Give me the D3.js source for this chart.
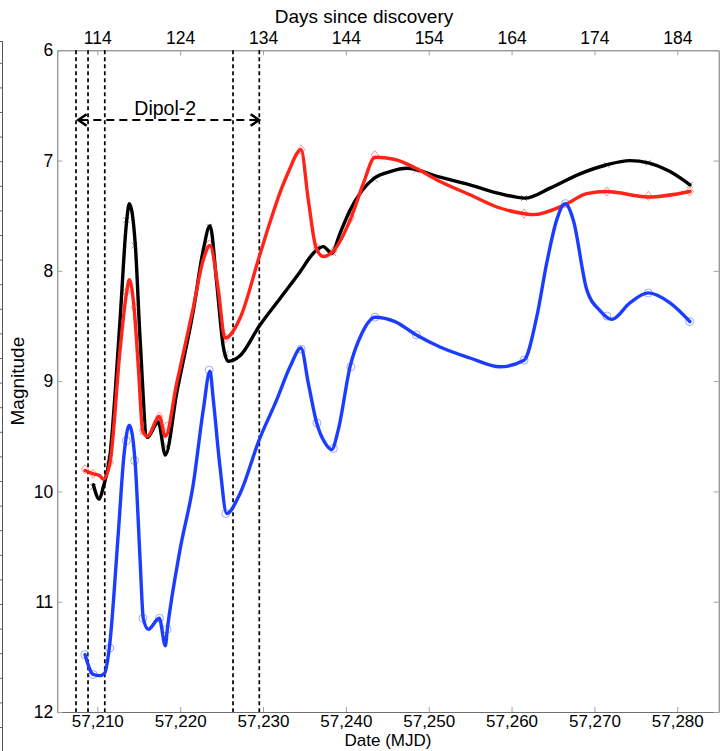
<!DOCTYPE html>
<html><head><meta charset="utf-8">
<script src="https://cdn.jsdelivr.net/npm/d3@7/dist/d3.min.js"></script>
<style>
html,body{margin:0;padding:0;background:#fff;}
svg{display:block;font-family:"Liberation Sans",Arial,Helvetica,sans-serif;}
</style></head><body>
<svg id="chart" width="724" height="751"></svg>
<script>
// ---------------- data ----------------
const mjdTicks = [57210, 57220, 57230, 57240, 57250, 57260, 57270, 57280];
const dayTicks = [114, 124, 134, 144, 154, 164, 174, 184];
const magTicks = [6, 7, 8, 9, 10, 11, 12];
const discoveryMJD = 57096;
const xDomain = [57205.17, 57285];
const yDomain = [6, 12];

// vertical dashed epochs (MJD)
const dashedEpochs = [57207.43, 57208.88, 57210.9, 57226.38, 57229.55];
// Dipol-2 arrow span and label
const dipolSpan = [57207.43, 57229.55];
const dipolMag = 6.632;
const dipolLabel = {text: "Dipol-2", mjd: 57218.2, mag: 6.587};

// observations (markers)
const blackObs = [[57209.5,9.96],[57211.5,9.70],[57213.5,7.54],[57214.5,7.77],[57215.5,9.46],[57217.5,9.37],[57218.4,9.59],[57223.5,7.60],[57225.5,8.75],[57236.5,7.79],[57238.5,7.84],[57240.6,7.48],[57243.5,7.17],[57248.5,7.09],[57261.5,7.34],[57271.5,7.04],[57276.5,7.02],[57281.5,7.22]];
const redObs = [[57208.5,9.80],[57209.5,9.84],[57211.5,9.74],[57213.5,8.19],[57214.5,8.33],[57215.5,9.45],[57217.5,9.32],[57218.4,9.41],[57223.5,7.76],[57225.5,8.61],[57234.6,6.90],[57236.5,7.79],[57238.5,7.82],[57240.6,7.52],[57243.5,6.95],[57261.5,7.48],[57271.5,7.28],[57276.5,7.32],[57281.5,7.28]];
const blueObs = [[57208.5,11.48],[57209.5,11.66],[57211.5,11.42],[57213.5,9.54],[57214.5,9.72],[57215.5,11.15],[57217.5,11.15],[57218.4,11.25],[57223.5,8.90],[57225.5,10.20],[57234.6,8.71],[57236.5,9.38],[57238.5,9.61],[57240.6,8.87],[57243.5,8.42],[57248.5,8.58],[57261.5,8.81],[57266.5,7.39],[57271.5,8.41],[57276.5,8.20],[57281.5,8.46]];

// fitted curves
const blackCurve = [[57209.52,9.94],[57210.24,10.07],[57210.72,9.96],[57211.53,9.67],[57212.74,8.45],[57213.55,7.54],[57213.86,7.39],[57214.59,7.77],[57215.15,8.60],[57216.03,9.51],[57217.36,9.37],[57218.21,9.67],[57219.58,9.11],[57221.59,8.36],[57222.79,7.81],[57223.6,7.59],[57224.41,8.11],[57225.21,8.69],[57225.81,8.82],[57227.22,8.77],[57229.55,8.50],[57232.05,8.25],[57234.46,8.01],[57236.07,7.84],[57237.28,7.78],[57238.29,7.84],[57239.29,7.66],[57240.5,7.45],[57243.4,7.16],[57245.33,7.10],[57247.34,7.07],[57251.36,7.15],[57254.98,7.22],[57258.6,7.30],[57261.62,7.34],[57264.64,7.25],[57268.26,7.12],[57271.39,7.04],[57274.29,7.00],[57276.5,7.02],[57279.12,7.10],[57281.53,7.22]];
const redCurve = [[57208.52,9.81],[57209.52,9.84],[57210.33,9.86],[57210.72,9.89],[57211.53,9.74],[57212.74,8.72],[57213.55,8.19],[57213.86,8.08],[57214.43,8.33],[57214.95,8.87],[57215.48,9.45],[57216.03,9.50],[57217.48,9.32],[57218.21,9.50],[57219.58,9.02],[57221.59,8.33],[57222.79,7.90],[57223.6,7.77],[57224.6,8.17],[57225.41,8.61],[57227.22,8.43],[57229.55,7.87],[57230.84,7.56],[57232.05,7.29],[57233.26,7.07],[57234.05,6.94],[57234.58,6.90],[57235.47,7.36],[57236.4,7.79],[57237.28,7.87],[57238.48,7.82],[57240.62,7.52],[57242.1,7.21],[57243.52,6.97],[57245.93,6.99],[57248.46,7.07],[57251.36,7.19],[57254.98,7.31],[57258.6,7.43],[57261.41,7.48],[57262.62,7.49],[57266.45,7.40],[57269.07,7.30],[57271.48,7.28],[57276.5,7.33],[57281.53,7.28]];
const blueCurve = [[57208.52,11.48],[57209.52,11.66],[57210.33,11.67],[57210.87,11.65],[57211.45,11.42],[57212.53,10.38],[57213.22,9.67],[57213.86,9.40],[57214.55,9.72],[57215.15,10.60],[57215.55,11.15],[57216.16,11.25],[57217.48,11.15],[57218.21,11.40],[57218.45,11.25],[57219.98,10.53],[57221.59,9.93],[57222.79,9.26],[57223.6,8.91],[57224.0,9.17],[57224.81,9.78],[57225.62,10.20],[57227.22,10.02],[57229.55,9.53],[57231.65,9.17],[57233.26,8.87],[57234.58,8.70],[57235.47,9.02],[57236.48,9.38],[57237.48,9.56],[57238.29,9.62],[57239.09,9.44],[57240.5,8.87],[57241.91,8.57],[57243.52,8.42],[57245.93,8.46],[57248.46,8.58],[57251.36,8.69],[57254.98,8.79],[57258.6,8.87],[57261.5,8.81],[57263.03,8.42],[57264.24,7.93],[57265.44,7.54],[57266.45,7.39],[57267.45,7.54],[57269.07,8.17],[57270.67,8.36],[57272.08,8.44],[57274.29,8.29],[57276.5,8.20],[57279.12,8.29],[57281.53,8.46]];

// ---------------- chart ----------------
const svg = d3.select("#chart");
const L = 57.3, R = 718.7, T = 50.3, B = 712;
const x = d3.scaleLinear().domain(xDomain).range([L, R]);
const xTop = d3.scaleLinear().domain(xDomain.map(d => d - discoveryMJD)).range([L, R]);
const y = d3.scaleLinear().domain(yDomain).range([T, B]);

// stray frame of neighbouring panel at far left
const stray = svg.append("g");
stray.append("path").attr("d", "M0,41.5H2.5V751").attr("fill", "none").attr("stroke", "#555").attr("stroke-width", 1);
d3.range(63.3, 751, 24.6).forEach(v => {
  stray.append("line").attr("x1", 0).attr("x2", 2.5).attr("y1", v).attr("y2", v).attr("stroke", "#666").attr("stroke-width", 1);
});

function styleAxis(g, fs) {
  g.select(".domain").attr("stroke", "#707070").attr("stroke-width", 1);
  g.selectAll(".tick line").attr("stroke", "#a0a0a0").attr("stroke-width", 1);
  g.selectAll(".tick text").attr("fill", "#000").style("font-size", fs + "px")
    .style("font-family", '"Liberation Sans", Arial, sans-serif');
}

const gB = svg.append("g").attr("transform", `translate(0,${B})`)
  .call(d3.axisBottom(x).tickValues(mjdTicks).tickFormat(d3.format(",")).tickSizeInner(-5).tickSizeOuter(0).tickPadding(3));
styleAxis(gB, 17);
const gT = svg.append("g").attr("transform", `translate(0,${T})`)
  .call(d3.axisTop(xTop).tickValues(dayTicks).tickFormat(d3.format("d")).tickSizeInner(-5).tickSizeOuter(0).tickPadding(6));
styleAxis(gT, 17.5);
const gL = svg.append("g").attr("transform", `translate(${L},0)`)
  .call(d3.axisLeft(y).tickValues(magTicks).tickFormat(d3.format("d")).tickSizeInner(-5).tickSizeOuter(0).tickPadding(4));
styleAxis(gL, 17.5);
const gR = svg.append("g").attr("transform", `translate(${R},0)`)
  .call(d3.axisRight(y).tickValues(magTicks).tickFormat(() => "").tickSizeInner(-5).tickSizeOuter(0));
styleAxis(gR, 17.5);

// axis titles
svg.append("text").attr("x", 364).attr("y", 23).attr("text-anchor", "middle")
  .style("font-size", "19px").text("Days since discovery");
svg.append("text").attr("x", (L + R) / 2).attr("y", 746).attr("text-anchor", "middle")
  .style("font-size", "17px").text("Date (MJD)");
svg.append("text").attr("transform", `translate(24,${(T + B) / 2}) rotate(-90)`).attr("text-anchor", "middle")
  .style("font-size", "19px").text("Magnitude");

// dashed vertical epochs
svg.append("g").selectAll("line").data(dashedEpochs).join("line")
  .attr("x1", d => x(d)).attr("x2", d => x(d)).attr("y1", T).attr("y2", B)
  .attr("stroke", "#000").attr("stroke-width", 1.7).attr("stroke-dasharray", "4,3");

// Dipol-2 arrow
const ay = y(dipolMag), ax1 = x(dipolSpan[0]) + 2.3, ax2 = x(dipolSpan[1]) - 0.3;
svg.append("line").attr("x1", ax1 + 2).attr("x2", ax2 - 2).attr("y1", ay).attr("y2", ay)
  .attr("stroke", "#000").attr("stroke-width", 2).attr("stroke-dasharray", "8,5");
svg.append("path").attr("d", `M${ax1 + 8.3},${ay - 5.8}L${ax1},${ay}L${ax1 + 8.3},${ay + 5.8}`)
  .attr("fill", "none").attr("stroke", "#000").attr("stroke-width", 2.6);
svg.append("path").attr("d", `M${ax2 - 8.3},${ay - 5.8}L${ax2},${ay}L${ax2 - 8.3},${ay + 5.8}`)
  .attr("fill", "none").attr("stroke", "#000").attr("stroke-width", 2.6);
svg.append("text").attr("x", x(dipolLabel.mjd)).attr("y", y(dipolLabel.mag)).attr("text-anchor", "middle")
  .style("font-size", "19.5px").text(dipolLabel.text);

// markers
const mk = svg.append("g");
mk.selectAll("path.xm").data(blackObs).join("path").attr("class", "xm")
  .attr("d", d => { const cx = x(d[0]), cy = y(d[1]), s = 3; return `M${cx - s},${cy - s}L${cx + s},${cy + s}M${cx - s},${cy + s}L${cx + s},${cy - s}`; })
  .attr("stroke", "#808080").attr("stroke-width", 0.8).attr("fill", "none");
mk.selectAll("path.dm").data(redObs).join("path").attr("class", "dm")
  .attr("d", d => { const cx = x(d[0]), cy = y(d[1]); return `M${cx},${cy - 4.6}L${cx + 3.7},${cy}L${cx},${cy + 4.6}L${cx - 3.7},${cy}Z`; })
  .attr("stroke", "#ff7a7a").attr("stroke-width", 0.8).attr("fill", "none");
mk.selectAll("circle").data(blueObs).join("circle")
  .attr("cx", d => x(d[0])).attr("cy", d => y(d[1])).attr("r", 4)
  .attr("stroke", "#8193ff").attr("stroke-width", 0.8).attr("fill", "none");

// curves
const line = d3.line().x(d => x(d[0])).y(d => y(d[1])).curve(d3.curveMonotoneX);
const series = [[blackCurve, "#000000"], [redCurve, "#ff2318"], [blueCurve, "#1c3dff"]];
svg.append("g").selectAll("path").data(series).join("path")
  .attr("d", d => line(d[0])).attr("stroke", d => d[1]).attr("stroke-width", 3.4)
  .attr("fill", "none").attr("stroke-linejoin", "round").attr("stroke-linecap", "round");
</script>
</body></html>
